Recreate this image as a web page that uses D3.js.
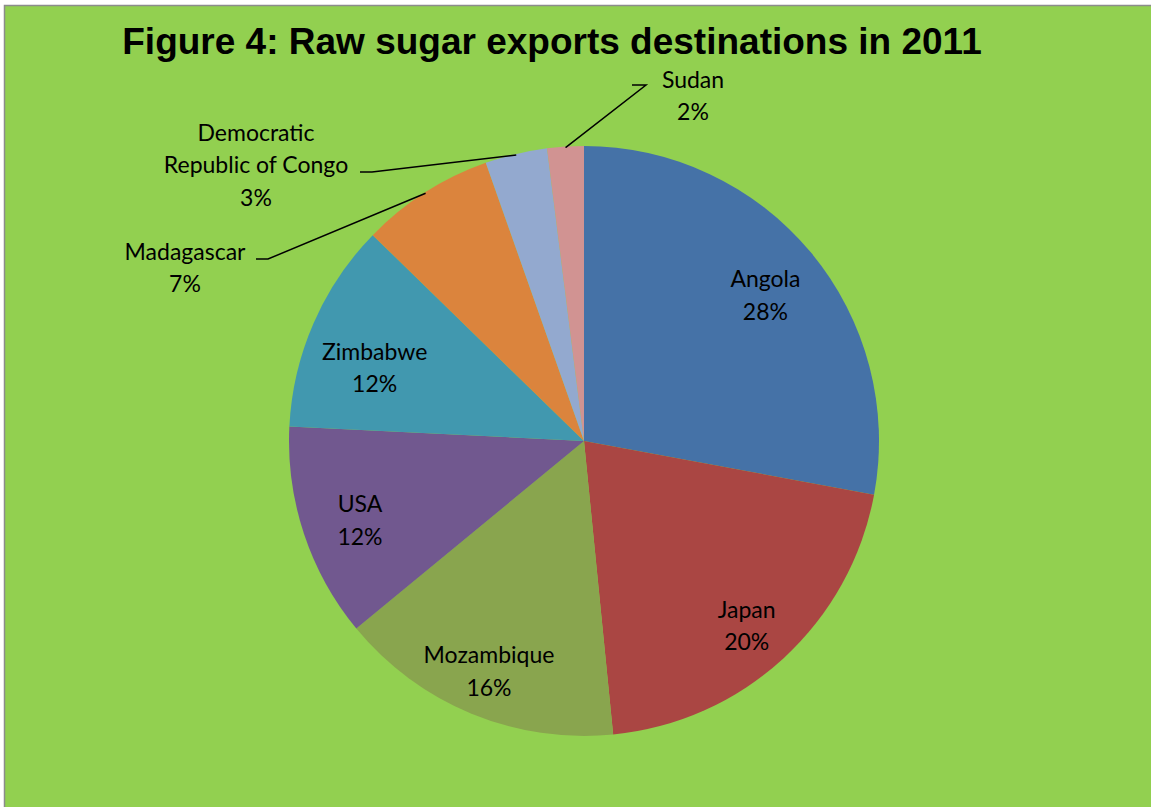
<!DOCTYPE html>
<html>
<head>
<meta charset="utf-8">
<script src="https://cdn.jsdelivr.net/npm/d3@7"></script>
<style>
  body { margin: 0; background: #fff; }
  .label { font-family: Lato, "Open Sans", sans-serif; font-size: 23px; fill: #000; }
  .title { font-family: "Liberation Sans", Arial, sans-serif; font-weight: bold; font-size: 37px; }
</style>
</head>
<body>
<script>
// Chart data
var countries = ["Angola", "Japan", "Mozambique", "USA", "Zimbabwe", "Madagascar", "Democratic Republic of Congo", "Sudan"];
var shares = [27.9, 20.5, 15.6, 11.75, 11.5, 7.3, 3.4, 2.0];
var pctLabels = ["28%", "20%", "16%", "12%", "12%", "7%", "3%", "2%"];
var colors = ["#4572A7", "#AA4643", "#89A54E", "#71588F", "#4198AF", "#DB843D", "#93A9CF", "#D19392"];

// Page dimensions
var width = 1151,
    height = 807;

var svg = d3.select("body")
    .append("svg")
    .attr("width", width)
    .attr("height", height);

// Chart area background with grey border
svg.append("rect")
    .attr("x", 4.5)
    .attr("y", 5.5)
    .attr("width", width + 20)
    .attr("height", height + 20)
    .attr("fill", "#92D050")
    .attr("stroke", "#8c8c8c")
    .attr("stroke-width", 1.5);

svg.append("text")
    .attr("class", "title")
    .attr("x", 552)
    .attr("y", 54)
    .attr("text-anchor", "middle")
    .text("Figure 4: Raw sugar exports destinations in 2011");

var cx = 584,
    cy = 441,
    radius = 295;

var pie = d3.pie()
    .sort(null)
    .value(function(d){ return d; });

var arcs = pie(shares);

var arc = d3.arc()
    .innerRadius(0)
    .outerRadius(radius);

var g = svg.append("g")
    .attr("transform", "translate(" + cx + "," + cy + ")");

g.selectAll(".slice")
    .data(arcs)
    .enter()
    .append("path")
    .attr("class", "slice")
    .attr("d", arc)
    .attr("fill", function(d, i){ return colors[i]; });

// Inside labels sit near the centroid of a ring at ~0.8 r
var labelArc = d3.arc()
    .innerRadius(radius * 0.8)
    .outerRadius(radius * 0.8);

// small nudges so the inside labels land where Excel put them
var nudge = {
    "Japan": [3, 6],
    "Mozambique": [-5, 7],
    "Zimbabwe": [7, 16]
};

var lineHeight = 32.5;

function addLabel(lines, x, y, anchor) {
    var t = g.append("text")
        .attr("class", "label")
        .attr("text-anchor", anchor || "middle");
    lines.forEach(function(s, k){
        t.append("tspan")
            .attr("x", x)
            .attr("y", y + k * lineHeight)
            .text(s);
    });
}

// Outside label layout: label centre relative to pie centre, plus elbow end
var outside = {
    "Madagascar": { x: -399, y: -173, elbow: [-316, -182], lines: ["Madagascar"] },
    "Democratic Republic of Congo": { x: -328, y: -276, elbow: [-212, -269], lines: ["Democratic", "Republic of Congo"] },
    "Sudan": { x: 109, y: -345, elbow: [62, -356], lines: ["Sudan"] }
};

arcs.forEach(function(d, i){
    var name = countries[i];
    var o = outside[name];
    if (!o) {
        var c = labelArc.centroid(d);
        var n = nudge[name] || [0, 0];
        addLabel([name, pctLabels[i]], c[0] + n[0], c[1] - 3 + n[1]);
        return;
    }
    // leader line from the slice edge at its mid angle
    var mid = (d.startAngle + d.endAngle) / 2;
    var ex = Math.sin(mid) * (radius - 1),
        ey = -Math.cos(mid) * (radius - 1);
    var elbowX = o.elbow[0],
        elbowY = o.elbow[1];
    var tail = name === "Sudan" ? elbowX - 14 : elbowX - 12;
    g.append("path")
        .attr("d", "M" + ex + "," + ey + "L" + elbowX + "," + elbowY + "L" + tail + "," + elbowY)
        .attr("fill", "none")
        .attr("stroke", "#000")
        .attr("stroke-width", 1.5);
    var lines = o.lines.concat([pctLabels[i]]);
    addLabel(lines, o.x, o.y - (lines.length - 1) * lineHeight / 2 + 8);
});
</script>
</body>
</html>
